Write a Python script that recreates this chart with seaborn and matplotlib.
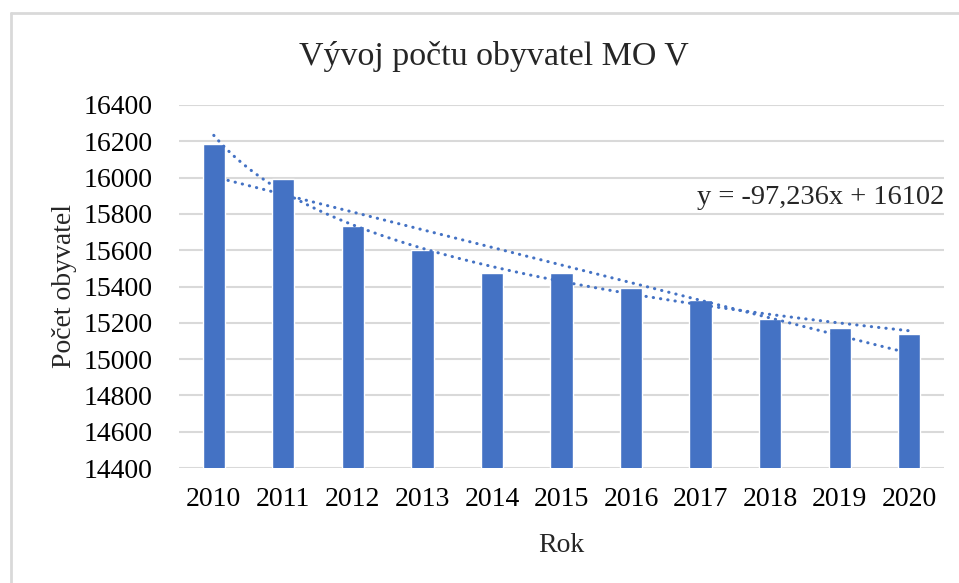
import numpy as np
import pandas as pd
import matplotlib
matplotlib.use("Agg")
import matplotlib.pyplot as plt
import seaborn as sns

# data
years = ["2010", "2011", "2012", "2013", "2014", "2015",
         "2016", "2017", "2018", "2019", "2020"]
population = [16184, 15991, 15736, 15600, 15475, 15473,
              15390, 15326, 15219, 15170, 15138]
y_ticks = [14400, 14600, 14800, 15000, 15200, 15400,
           15600, 15800, 16000, 16200, 16400]
equation_label = "y = -97,236x + 16102"

sns.set_theme(style="white")
plt.rcParams['font.family'] = ['Liberation Serif', 'DejaVu Serif']

BLUE = "#4472C4"
GRID = "#D9D9D9"

df = pd.DataFrame({"Rok": years, "Počet obyvatel": population})

fig = plt.figure(figsize=(9.59, 5.83), dpi=100)
ax = fig.add_axes([179 / 959, 1 - 468 / 583, (944 - 179) / 959, (468 - 105) / 583])

sns.barplot(data=df, x="Rok", y="Počet obyvatel", color=BLUE,
            saturation=1, width=0.32, ax=ax, zorder=2)

# trendlines (Excel style): linear and logarithmic, x = 1..n
xs = np.arange(1, len(population) + 1)
lin = np.polyfit(xs, population, 1)
logc = np.polyfit(np.log(xs), population, 1)
xx = np.linspace(1, len(population), 200)
dot = dict(color=BLUE, lw=2.2, linestyle=(0, (0.1, 2.3)),
           dash_capstyle="round", zorder=3)
ax.plot(xx - 1, np.polyval(lin, xx), **dot)
ax.plot(xx - 1, np.polyval(logc, np.log(xx)), **dot)

ax.set_ylim(y_ticks[0], y_ticks[-1])
ax.set_yticks(y_ticks)
ax.set_xlim(-0.5, len(years) - 0.5)
ax.yaxis.grid(True, color=GRID, lw=1.5)
ax.set_axisbelow(True)
for s in ax.spines.values():
    s.set_visible(False)
ax.tick_params(axis="both", length=0, labelsize=20, colors="black")
ax.tick_params(axis="y", pad=19)
ax.tick_params(axis="x", pad=14)
ax.set_xlabel("Rok", fontsize=20, labelpad=15)
ax.set_ylabel("Počet obyvatel", fontsize=20, labelpad=5)

fig.text(494 / 959, 1 - 56 / 583, "Vývoj počtu obyvatel MO V",
         ha="center", va="center", fontsize=24.5)
fig.text(697 / 959, 1 - 198 / 583, equation_label,
         ha="left", va="center", fontsize=20.5)

# chart frame (top and left edges visible in the crop)
fig.add_artist(plt.Line2D([11 / 959, 1], [1 - 13 / 583] * 2,
                          transform=fig.transFigure, color=GRID, lw=2))
fig.add_artist(plt.Line2D([11 / 959] * 2, [0, 1 - 13 / 583],
                          transform=fig.transFigure, color=GRID, lw=2))

fig.savefig("out.png", dpi=100)
